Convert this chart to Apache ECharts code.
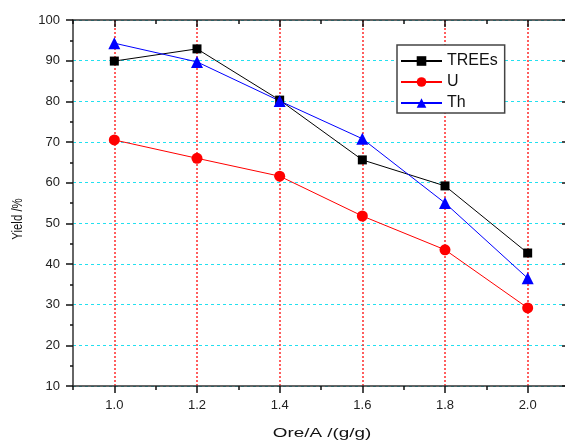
<!DOCTYPE html>
<html>
<head>
<meta charset="utf-8">
<script src="https://cdn.jsdelivr.net/npm/echarts@6/dist/echarts.min.js"></script>
<style>html,body{margin:0;padding:0;background:#fff}#c{width:565px;height:441px}</style>
</head>
<body>
<div id="c"></div>
<script>
var xValues = [1.0, 1.2, 1.4, 1.6, 1.8, 2.0];
var treesValues = [89.9, 92.9, 80.3, 65.6, 59.2, 42.7];
var uValues = [70.5, 66.0, 61.6, 51.8, 43.5, 29.2];
var thValues = [94.3, 89.7, 80.1, 70.8, 55.0, 36.5];
var xMajorTicks = [1.0, 1.2, 1.4, 1.6, 1.8, 2.0];
var xMinorTicks = [0.9, 1.1, 1.3, 1.5, 1.7, 1.9];
var xAxisTitle = 'Ore/A /(g/g)';
var yAxisTitle = 'Yield /%';

function pairs(vals) { return xValues.map(function (x, i) { return [x, vals[i]]; }); }
var FONT = 'Liberation Sans, Arial, sans-serif';
var axisColor = '#333';

var chart = echarts.init(document.getElementById('c'));
var baseX = { type: 'value', min: 0.9, max: 2.1, gridIndex: 0 };
chart.setOption({
  animation: false,
  backgroundColor: '#fff',
  grid: { left: 73, top: 20, width: 496, height: 366, containLabel: false, outerBoundsMode: 'none' },
  xAxis: [
    Object.assign({}, baseX, {
      position: 'bottom',
      axisLine: { show: true, lineStyle: { color: axisColor, width: 1.5 } },
      axisTick: { show: true, customValues: xMajorTicks, length: 7, inside: false, lineStyle: { color: '#111', width: 1.5 } },
      axisLabel: { show: true, customValues: xMajorTicks, margin: 13, fontFamily: FONT, fontSize: 13, color: '#222',
        formatter: function (v) { return v.toFixed(1); } },
      splitLine: { show: true, lineStyle: { color: '#ff2a2a', type: [2, 2], width: 1.5 } }
    }),
    Object.assign({}, baseX, {
      position: 'bottom',
      axisLine: { show: false },
      axisTick: { show: true, customValues: xMinorTicks, length: 4, inside: false, lineStyle: { color: '#111', width: 1.5 } },
      axisLabel: { show: false },
      splitLine: { show: false }
    }),
    Object.assign({}, baseX, {
      position: 'top',
      axisLine: { show: true, lineStyle: { color: axisColor, width: 1.5 } },
      axisTick: { show: true, customValues: xMajorTicks, length: 7, inside: true, lineStyle: { color: '#111', width: 1.5 } },
      axisLabel: { show: false },
      splitLine: { show: false }
    }),
    Object.assign({}, baseX, {
      position: 'top',
      axisLine: { show: false },
      axisTick: { show: true, customValues: xMinorTicks, length: 4, inside: true, lineStyle: { color: '#111', width: 1.5 } },
      axisLabel: { show: false },
      splitLine: { show: false }
    })
  ],
  yAxis: [
    {
      type: 'value', min: 10, max: 100, interval: 10, position: 'left',
      axisLine: { show: true, lineStyle: { color: axisColor, width: 1.5 } },
      axisTick: { show: true, length: 7, inside: false, lineStyle: { color: '#111', width: 1.5 } },
      minorTick: { show: true, splitNumber: 2, length: 3, lineStyle: { color: '#111', width: 1.5 } },
      axisLabel: { margin: 13, fontFamily: FONT, fontSize: 13, color: '#222' },
      splitLine: { show: true, lineStyle: { color: '#22e0f0', type: [3, 3], width: 1 } }
    },
    {
      type: 'value', min: 10, max: 100, interval: 10, position: 'right',
      axisLine: { show: true, lineStyle: { color: axisColor, width: 1.5 } },
      axisTick: { show: true, length: 7, inside: true, lineStyle: { color: '#111', width: 1.5 } },
      minorTick: { show: true, splitNumber: 2, length: 4, lineStyle: { color: '#111', width: 1.5 } },
      axisLabel: { show: false },
      splitLine: { show: false }
    }
  ],
  legend: {
    left: 397, top: 45, orient: 'vertical',
    itemWidth: 41, itemHeight: 12, itemGap: 5, itemSymbolKeepAspect: true,
    padding: [8, 7, 2, 3],
    borderColor: '#444', borderWidth: 1.5, backgroundColor: '#fff',
    textStyle: { fontFamily: FONT, fontSize: 16, color: '#111', padding: [0, 0, 0, 0] },
    data: ['TREEs', 'U', 'Th']
  },
  graphic: [{
    type: 'text', x: 18, y: 219, rotation: Math.PI / 2, scaleX: 0.76,
    style: { text: yAxisTitle, font: '15px ' + FONT, fill: '#111', align: 'center', verticalAlign: 'middle' }
  }, {
    type: 'text', x: 322, y: 433, scaleX: 1.45,
    style: { text: xAxisTitle, font: '13px ' + FONT, fill: '#111', align: 'center', verticalAlign: 'middle' }
  }],
  series: [
    { name: 'TREEs', type: 'line', data: pairs(treesValues), symbol: 'rect', symbolSize: 9,
      lineStyle: { color: '#000', width: 1 }, itemStyle: { color: '#000' }, z: 3 },
    { name: 'U', type: 'line', data: pairs(uValues), symbol: 'circle', symbolSize: 11,
      lineStyle: { color: '#ff0000', width: 1 }, itemStyle: { color: '#ff0000' }, z: 3 },
    { name: 'Th', type: 'line', data: pairs(thValues), symbol: 'triangle', symbolSize: 12,
      lineStyle: { color: '#0000ff', width: 1 }, itemStyle: { color: '#0000ff' }, z: 3 }
  ]
});
</script>
</body>
</html>
